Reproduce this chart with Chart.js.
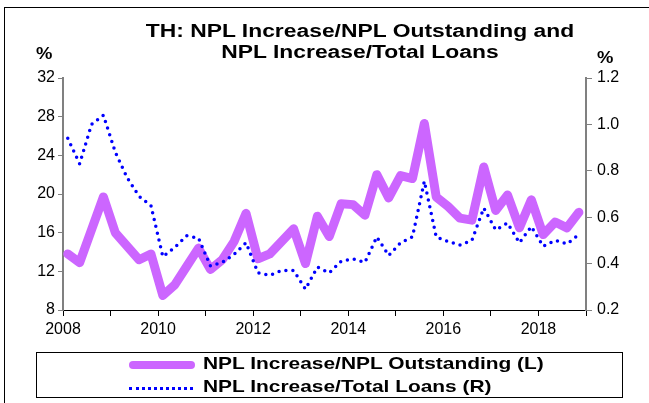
<!DOCTYPE html>
<html>
<head>
<meta charset="utf-8">
<script src="https://cdn.jsdelivr.net/npm/chart.js@4.4.0/dist/chart.umd.min.js"></script>
<style>
    body { margin: 0; background: #fff; font-family: "Liberation Sans", Arial, sans-serif; }
    #wrap { position: relative; width: 649px; height: 403px; overflow: hidden; }
    #frame { position: absolute; left: 4px; top: 7px; width: 700px; height: 500px; border-left: 1px solid #000; border-top: 1px solid #000; }
    .title { position: absolute; left: 100px; width: 520px; text-align: center; font-weight: bold; font-size: 18px; transform: scaleX(1.27); }
    .unit { position: absolute; font-weight: bold; font-size: 16px; transform: scaleX(1.15); }
    #legend { position: absolute; left: 36px; top: 352px; width: 587px; height: 46px; border: 1px solid #000; box-sizing: border-box; }
    .row { position: absolute; left: 0; height: 22px; font-weight: bold; font-size: 17px; }
    .row span { position: absolute; left: 166px; white-space: nowrap; transform: scaleX(1.23); transform-origin: left center; }
    .sample { position: absolute; left: 92px; }
</style>
</head>
<body>
<div id="wrap">
    <canvas id="chart" width="649" height="403"></canvas>
    <div id="frame"></div>
    <div class="title" style="top: 21px;">TH: NPL Increase/NPL Outstanding and</div>
    <div class="title" style="top: 42px;">NPL Increase/Total Loans</div>
    <div class="unit" style="left: 37px; top: 45px;">%</div>
    <div class="unit" style="left: 598px; top: 49px;">%</div>
    <div id="legend">
        <div class="row" style="top: 1px;">
            <div class="sample" style="top: 7px; width: 66px; height: 8px; border-radius: 4px; background: #cc66ff;"></div>
            <span>NPL Increase/NPL Outstanding (L)</span>
        </div>
        <div class="row" style="top: 24px;">
            <div class="sample" style="top: 10px; width: 64px; border-top: 3px dotted #0000ff;"></div>
            <span>NPL Increase/Total Loans (R)</span>
        </div>
    </div>
</div>
<script>
// Quarterly data, 2008Q1 - 2018Q4
const startYear = 2008.1;
const nplOutstanding = [
    13.8, 12.9, 16.3, 19.7, 16.0, 14.6, 13.2, 13.8,
    9.5, 10.6, 12.5, 14.4, 12.2, 13.2, 15.1, 18.0,
    13.3, 13.8, 15.1, 16.4, 12.8, 17.7, 15.6, 19.0,
    18.9, 17.8, 22.0, 19.6, 21.9, 21.6, 27.3, 19.7,
    18.7, 17.5, 17.3, 22.8, 18.3, 19.9, 16.5, 19.4,
    15.8, 17.1, 16.5, 18.1
];
const totalLoans = [
    0.94, 0.83, 1.00, 1.04, 0.88, 0.77, 0.69, 0.65,
    0.43, 0.47, 0.52, 0.51, 0.39, 0.405, 0.44, 0.49,
    0.36, 0.35, 0.37, 0.37, 0.29, 0.385, 0.36, 0.41,
    0.42, 0.405, 0.515, 0.435, 0.49, 0.515, 0.755, 0.515,
    0.495, 0.48, 0.50, 0.64, 0.545, 0.575, 0.49, 0.56,
    0.475, 0.50, 0.485, 0.525
];
const leftTicks = [8, 12, 16, 20, 24, 28, 32];
const rightTicks = [0.2, 0.4, 0.6, 0.8, 1.0, 1.2];

function toPoints(values) {
    return values.map((v, i) => ({ x: startYear + 0.25 * i, y: v }));
}

const tickFont = { family: '"Liberation Sans", Arial, sans-serif', size: 16 };

new Chart(document.getElementById('chart'), {
    type: 'line',
    data: {
        datasets: [
            {
                label: 'NPL Increase/NPL Outstanding (L)',
                data: toPoints(nplOutstanding),
                yAxisID: 'y',
                borderColor: '#cc66ff',
                borderWidth: 9,
                borderJoinStyle: 'round',
                borderCapStyle: 'round',
                pointRadius: 0,
                tension: 0,
                order: 2
            },
            {
                label: 'NPL Increase/Total Loans (R)',
                data: toPoints(totalLoans),
                yAxisID: 'y1',
                borderColor: '#0000ff',
                borderWidth: 3.5,
                borderDash: [0, 7],
                borderCapStyle: 'round',
                pointRadius: 0,
                tension: 0,
                order: 1
            }
        ]
    },
    options: {
        responsive: false,
        animation: false,
        layout: { padding: { left: 0, right: 0, top: 78, bottom: 53 } },
        plugins: { legend: { display: false }, tooltip: { enabled: false } },
        scales: {
            x: {
                type: 'linear',
                min: 2008,
                max: 2019,
                afterFit: s => { s.height = 40; },
                afterBuildTicks: s => { s.ticks = []; for (let y = 2008; y <= 2019; y++) s.ticks.push({ value: y }); },
                ticks: {
                    autoSkip: false,
                    maxRotation: 0,
                    padding: 4,
                    color: '#000',
                    font: tickFont,
                    callback: v => (v % 2 === 0 && v < 2019) ? String(v) : ''
                },
                grid: { drawOnChartArea: false, tickLength: 6, color: '#000' },
                border: { color: '#000', width: 1 }
            },
            y: {
                position: 'left',
                min: 8,
                max: 32,
                afterFit: s => { s.width = 63; },
                afterBuildTicks: s => { s.ticks = leftTicks.map(v => ({ value: v })); },
                ticks: { padding: 3, color: '#000', font: tickFont },
                grid: { drawOnChartArea: false, tickLength: 5, color: '#808080' },
                border: { color: '#808080', width: 2 }
            },
            y1: {
                position: 'right',
                min: 0.2,
                max: 1.2,
                afterFit: s => { s.width = 63; },
                afterBuildTicks: s => { s.ticks = rightTicks.map(v => ({ value: v })); },
                ticks: { padding: 5, color: '#000', font: tickFont, callback: v => v.toFixed(1) },
                grid: { drawOnChartArea: false, tickLength: 6, color: '#808080' },
                border: { color: '#808080', width: 2 }
            }
        }
    }
});
</script>
</body>
</html>
